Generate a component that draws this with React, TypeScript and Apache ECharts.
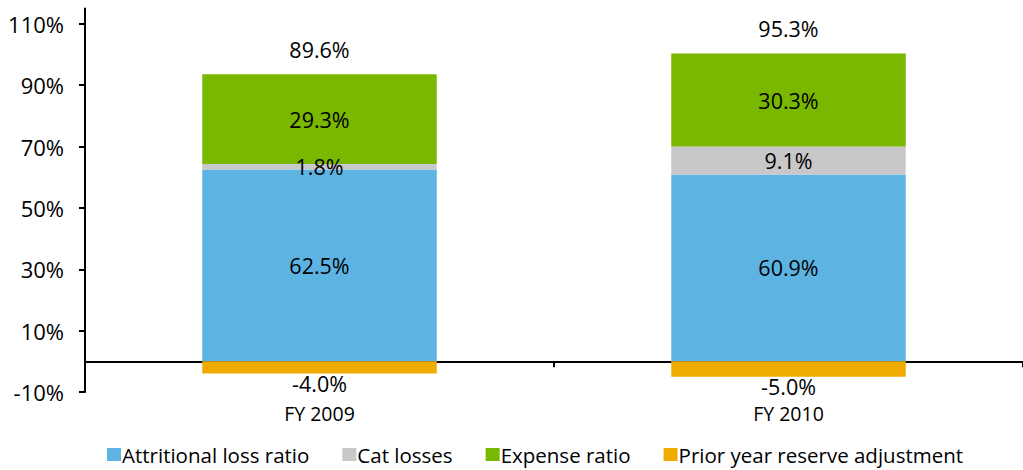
import React, { useEffect, useRef } from "react";
import * as echarts from "echarts";

const categories = ["FY 2009", "FY 2010"];
const attritional = [62.5, 60.9];
const catLosses = [1.8, 9.1];
const expense = [29.3, 30.3];
const priorYear = [-4.0, -5.0];
const totals = [89.6, 95.3];
const yTicks = [-10, 10, 30, 50, 70, 90, 110];

const FONT = "Open Sans";

export default function App() {
  const ref = useRef<HTMLDivElement>(null);
  useEffect(() => {
    if (!ref.current) return;
    const chart = echarts.init(ref.current, undefined, { renderer: "svg" });
    const stackTops = attritional.map((v, i) => v + catLosses[i] + expense[i]);
    const lbl = (pos: string, dist = 5) => ({
      show: true,
      position: pos,
      distance: dist,
      color: "#000",
      fontSize: 21.5,
      fontFamily: FONT,
      formatter: (p: any) => `${Number(p.value).toFixed(1)}%`,
    });
    chart.setOption({
      animation: false,
      textStyle: { fontFamily: FONT },
      grid: { left: 85, right: -2, top: 8.5, bottom: 78, containLabel: false },
      legend: {
        data: ["Attritional loss ratio", "Cat losses", "Expense ratio", "Prior year reserve adjustment"],
        left: 102,
        bottom: 0,
        itemWidth: 14,
        itemHeight: 13,
        itemGap: 33,
        icon: "rect",
        textStyle: { fontSize: 20.5, fontFamily: FONT, color: "#000", padding: [0, 0, 0, -4] },
      },
      xAxis: [
        {
          type: "category",
          data: categories,
          axisLine: { onZero: true, lineStyle: { color: "#000", width: 2 } },
          axisTick: { show: true, length: 6, lineStyle: { color: "#000", width: 2 } },
          axisLabel: { show: false },
        },
        {
          type: "category",
          data: categories,
          position: "bottom",
          axisLine: { show: false, onZero: false },
          axisTick: { show: false },
          axisLabel: { show: true, margin: 11, fontSize: 19.5, color: "#000", fontFamily: FONT },
        },
      ],
      yAxis: {
        type: "value",
        min: -10,
        max: 115,
        interval: 20,
        splitLine: { show: false },
        axisLine: { show: true, lineStyle: { color: "#000", width: 2 } },
        axisTick: { show: true, length: 6, customValues: yTicks, lineStyle: { color: "#000", width: 2 } },
        axisLabel: {
          margin: 21,
          fontSize: 22,
          color: "#000",
          fontFamily: FONT,
          customValues: yTicks,
          formatter: (v: number) => `${v}%`,
        },
      },
      series: [
        {
          name: "Attritional loss ratio",
          type: "bar",
          stack: "a",
          barWidth: "50%",
          data: attritional,
          itemStyle: { color: "#5DB4E3" },
          label: lbl("inside"),
        },
        {
          name: "Cat losses",
          type: "bar",
          stack: "a",
          data: catLosses,
          itemStyle: { color: "#C8C8C8" },
          label: lbl("inside"),
        },
        {
          name: "Expense ratio",
          type: "bar",
          stack: "a",
          data: expense,
          itemStyle: { color: "#7AB800" },
          label: lbl("inside"),
        },
        {
          name: "Prior year reserve adjustment",
          type: "bar",
          stack: "a",
          data: priorYear,
          itemStyle: { color: "#F0AB00" },
          label: lbl("bottom", -1),
        },
        {
          name: "Total",
          type: "scatter",
          symbolSize: 0,
          data: stackTops,
          itemStyle: { opacity: 1 },
          label: {
            show: true,
            position: "top",
            distance: 14,
            color: "#000",
            opacity: 1,
            fontSize: 21.5,
            fontFamily: FONT,
            formatter: (p: any) => `${totals[p.dataIndex].toFixed(1)}%`,
          },
        },
      ],
    });
    return () => chart.dispose();
  }, []);
  return (
    <div
      ref={ref}
      style={{ position: "absolute", left: 0, top: 0, width: 1023, height: 470 }}
    />
  );
}
